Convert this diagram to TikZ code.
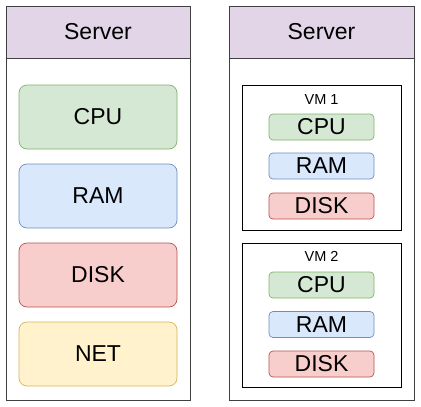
\documentclass[tikz,border=0pt]{standalone}
\usepackage{fontspec}
\setmainfont{Liberation Sans}
\usetikzlibrary{positioning}

\begin{document}
\begin{tikzpicture}[x=1pt,y=-1pt,
		box/.style={draw=black!75, line width=0.9pt, inner sep=0pt},
		head/.style={box, fill=hdfill, minimum width=184pt, minimum height=52pt, font=\fontsize{23}{23}\selectfont},
		body/.style={box, fill=white, minimum width=184pt, minimum height=342pt},
		vmbox/.style={draw=black, line width=0.9pt, inner sep=0pt, minimum width=159pt},
		vmname/.style={font=\fontsize{14.5}{14.5}\selectfont},
		part/.style={draw, line width=0.7pt, rounded corners=8pt, inner sep=0pt, minimum width=158pt, minimum height=64pt, font=\fontsize{23}{23}\selectfont},
		vmpart/.style={draw, line width=0.7pt, rounded corners=4pt, inner sep=0pt, minimum width=105pt, minimum height=26pt, font=\fontsize{23}{23}\selectfont},
		cpu/.style={fill=cpufill, draw=cpudraw},
		ram/.style={fill=ramfill, draw=ramdraw},
		disk/.style={fill=diskfill, draw=diskdraw},
		net/.style={fill=netfill, draw=netdraw}]
		\definecolor{hdfill}{HTML}{E1D5E7}
		\definecolor{cpufill}{HTML}{D5E8D4}
		\definecolor{cpudraw}{HTML}{82B366}
		\definecolor{ramfill}{HTML}{DAE8FC}
		\definecolor{ramdraw}{HTML}{6C8EBF}
		\definecolor{diskfill}{HTML}{F8CECC}
		\definecolor{diskdraw}{HTML}{B85450}
		\definecolor{netfill}{HTML}{FFF2CC}
		\definecolor{netdraw}{HTML}{D6B656}
		\useasboundingbox (0,0) rectangle (421,407);

		% bare metal server
		\node[body] (body1) at (98,229) {};
		\node[head] (head1) at (98,32) {Server};
		\node[part, cpu] (cpu) at (98,117) {CPU};
		\node[part, ram] (ram) at (98,196) {RAM};
		\node[part, disk] (disk) at (98,275) {DISK};
		\node[part, net] (net) at (98,354) {NET};

		% virtualised server
		\node[body, minimum width=185pt] (body2) at (321.5,229) {};
		\node[head, minimum width=185pt] (head2) at (321.5,32) {Server};

		\node[vmbox, minimum height=145pt] (vm1) at (321.5,157.5) {};
		\node[vmname] (vm1label) at (321.5,100) {VM 1};
		\node[vmpart, cpu] (vm1cpu) at (321.5,127) {CPU};
		\node[vmpart, ram] (vm1ram) at (321.5,166) {RAM};
		\node[vmpart, disk] (vm1disk) at (321.5,206) {DISK};

		\node[vmbox, minimum height=144pt] (vm2) at (321.5,315) {};
		\node[vmname] (vm2label) at (321.5,256) {VM 2};
		\node[vmpart, cpu] (vm2cpu) at (321.5,285) {CPU};
		\node[vmpart, ram] (vm2ram) at (321.5,324.5) {RAM};
		\node[vmpart, disk] (vm2disk) at (321.5,364) {DISK};
	\end{tikzpicture}
\end{document}
